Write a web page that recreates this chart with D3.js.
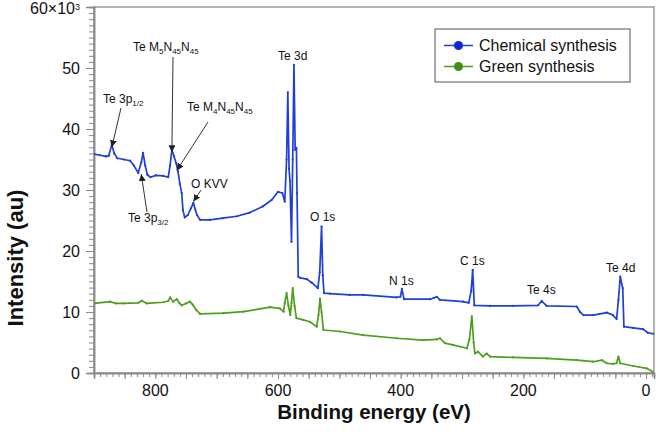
<!DOCTYPE html>
<html>
<head>
<meta charset="utf-8">
<script src="https://cdn.jsdelivr.net/npm/d3@7"></script>
<style>
  html, body { margin: 0; padding: 0; background: #fff; }
  svg { display: block; font-family: "Liberation Sans", Arial, sans-serif; }
</style>
</head>
<body>
<svg id="chart" width="656" height="434"></svg>
<script>
// Binding energy (eV) and intensity (counts) for each series
const chemEnergy = [900,890,880.5,876,871,867,862,851,841,835,828,823,820,816.5,813,808,799,787,779,776,773,769.5,766,763,760,757,755,752,747,742,738,735,732,727,711,690,667,646,625,610,600,593,589,586,584,582,580.5,578,576,574,572,570,569,567,564,553,545,535,532,529,527,525,515,483,461,406.5,400.5,398,394.6,352,346,341,336,298,289,285,282.6,280,254,217,176,170,162,113,107.6,102,86,64,54,48,45,42,38,36,21,5,-3,-13];
const chemIntensity = [35900,35700,35500,35600,37400,36000,35200,35000,34800,34000,32800,34500,36100,34000,32500,32100,32400,32300,32100,34000,36600,35500,34400,33000,31000,29500,26700,25500,25900,27000,27900,26800,25900,25100,25100,25400,25700,26300,27300,28400,29700,29500,28100,35000,46000,33500,31500,21500,35000,50500,36600,36900,29500,15800,15600,15400,14800,13900,16500,24000,16000,13100,13000,12800,12800,12400,12500,13800,12100,12100,12300,12500,12000,11700,11500,13500,16900,11100,11000,11000,11100,11800,11000,10900,10000,9500,9500,9900,9500,8850,12000,15800,13900,7600,7400,7200,6600,6400];

const greenEnergy = [900,874,864,852,828,822,814,787,779,776,771,765,761,757,750,743.5,739,733,727,689,656.6,613,597,591,589,586,583,580,578,576,573,570,559,548,537,534,531.5,529,526,499,461,406.5,363.6,340.8,336,328,315,292,288,284,281,279,274,266,260,254,217,162,113,86,72,64,54,48,45,42,21,-1,-11];
const greenIntensity = [11400,11700,11400,11400,11500,11850,11400,11600,11800,12400,11700,12100,11500,11100,11400,11700,11200,10300,9700,9800,10050,10800,10600,10050,11500,13100,11000,9500,11500,13900,11000,9000,8700,8400,7600,9500,12200,10000,7050,6800,6200,5700,5400,5500,5700,4900,4600,4050,5500,9300,5000,3200,3500,2700,3200,2700,2550,2400,2100,1850,2100,1600,1500,1600,2700,1600,1150,770,200];

const seriesNames = ["Chemical synthesis", "Green synthesis"];
const seriesColors = ["#1f3fd6", "#4f9d1f"];
const xTickLabels = [800, 600, 400, 200, 0];
const yTickLabels = [0, 10, 20, 30, 40, 50];

// Peak annotations: label parts (text, "sub" for subscript)
const annotations = [
  {parts:[["Te 3p",""],["1/2","sub"]], lx:103, ly:103, from:[121,108], toE:871, toI:37000},
  {parts:[["Te M",""],["5","sub"],["N",""],["45","sub"],["N",""],["45","sub"]], lx:133, ly:51, from:[173,57], toE:773, toI:36200},
  {parts:[["Te M",""],["4","sub"],["N",""],["45","sub"],["N",""],["45","sub"]], lx:187, ly:111, from:[208,122], toE:765, toI:33200},
  {parts:[["O KVV",""]], lx:191, ly:188, from:[201,190], toE:738, toI:28100},
  {parts:[["Te 3p",""],["3/2","sub"]], lx:128, ly:222, from:[147,212], toE:823, toI:32600}
];
const plainLabels = [
  {t:"Te 3d", x:278, y:60},
  {t:"O 1s", x:310, y:221},
  {t:"N 1s", x:389, y:285},
  {t:"C 1s", x:460, y:265},
  {t:"Te 4s", x:527, y:294},
  {t:"Te 4d", x:606, y:272}
];

const svg = d3.select("#chart");
const L = 94, R = 654, T = 7, B = 373;
const x = d3.scaleLinear().domain([900, -13]).range([L, R]);
const y = d3.scaleLinear().domain([0, 60000]).range([B, T]);

// frame
svg.append("rect").attr("x", L).attr("y", T).attr("width", R - L).attr("height", B - T)
  .attr("fill", "none").attr("stroke", "#9a9a9a").attr("stroke-width", 1.5);

// y axis ticks
const yAxisMinor = d3.axisLeft(y).tickValues(d3.range(0, 60001, 1000)).tickSize(5).tickFormat("");
const yAxisMajor = d3.axisLeft(y).tickValues(d3.range(0, 60001, 10000)).tickSize(8).tickFormat("");
[yAxisMinor, yAxisMajor].forEach(ax => {
  const g = svg.append("g").attr("transform", `translate(${L},0)`).call(ax);
  g.select(".domain").attr("stroke", "#888").attr("stroke-width", 1.5);
  g.selectAll(".tick line").attr("stroke", "#888");
});
const xAxisMinor = d3.axisBottom(x).tickValues(d3.range(-10, 901, 10)).tickSize(4).tickFormat("");
const xAxisMajor = d3.axisBottom(x).tickValues(d3.range(0, 901, 50)).tickSize(6).tickFormat("");
[xAxisMinor, xAxisMajor].forEach(ax => {
  const g = svg.append("g").attr("transform", `translate(0,${B})`).call(ax);
  g.select(".domain").attr("stroke", "#888").attr("stroke-width", 1.5);
  g.selectAll(".tick line").attr("stroke", "#888");
});

// tick labels
svg.append("g").selectAll("text").data(yTickLabels).join("text")
  .attr("x", 80).attr("y", d => y(d * 1000)).attr("dy", "0.36em")
  .attr("text-anchor", "end").attr("font-size", 16).attr("fill", "#111").text(d => d);
const topLbl = svg.append("text").attr("x", 80).attr("y", y(60000)).attr("dy", "0.42em")
  .attr("text-anchor", "end").attr("font-size", 16).attr("fill", "#111");
topLbl.append("tspan").text("60×10");
topLbl.append("tspan").attr("font-size", 9).attr("dy", -4).text("3");

svg.append("g").selectAll("text").data(xTickLabels).join("text")
  .attr("x", d => x(d)).attr("y", 396)
  .attr("text-anchor", "middle").attr("font-size", 16).attr("fill", "#111").text(d => d);

// axis titles
svg.append("text").attr("x", (L + R) / 2).attr("y", 419).attr("text-anchor", "middle")
  .attr("font-size", 20.5).attr("font-weight", "bold").attr("fill", "#111").text("Binding energy (eV)");
svg.append("text").attr("transform", "translate(23,258) rotate(-90)").attr("text-anchor", "middle")
  .attr("font-size", 22).attr("font-weight", "bold").attr("fill", "#111").text("Intensity (au)");

// lines
const series = [
  {e: chemEnergy, v: chemIntensity},
  {e: greenEnergy, v: greenIntensity}
];
const line = d3.line().x(d => x(d[0])).y(d => y(d[1]));
svg.append("clipPath").attr("id", "clip").append("rect")
  .attr("x", L).attr("y", T).attr("width", R - L).attr("height", B - T);
series.slice().reverse().forEach((s, ri) => {
  const i = series.length - 1 - ri;
  const pts = s.e.map((e, k) => [e, s.v[k]]);
  svg.append("path").attr("d", line(pts)).attr("clip-path", "url(#clip)")
    .attr("fill", "none").attr("stroke", seriesColors[i]).attr("stroke-width", 1.7)
    .attr("stroke-linejoin", "round");
  svg.append("g").attr("clip-path", "url(#clip)").selectAll("circle").data(pts).join("circle")
    .attr("cx", d => x(d[0])).attr("cy", d => y(d[1])).attr("r", 1.1).attr("fill", seriesColors[i]);
});

// arrow marker
svg.append("defs").append("marker").attr("id", "arr").attr("viewBox", "0 0 10 10")
  .attr("refX", 10).attr("refY", 5).attr("markerWidth", 7).attr("markerHeight", 7)
  .attr("orient", "auto-start-reverse").attr("markerUnits", "userSpaceOnUse")
  .append("path").attr("d", "M0,0 L10,5 L0,10 z").attr("fill", "#222");

annotations.forEach(a => {
  const t = svg.append("text").attr("x", a.lx).attr("y", a.ly).attr("font-size", 12).attr("fill", "#111");
  let prevSub = false;
  a.parts.forEach(p => {
    const ts = t.append("tspan").text(p[0]);
    if (p[1] === "sub") {
      ts.attr("font-size", 8).attr("dy", prevSub ? 0 : 3);
      prevSub = true;
    } else {
      ts.attr("dy", prevSub ? -3 : 0);
      prevSub = false;
    }
  });
  svg.append("line").attr("x1", a.from[0]).attr("y1", a.from[1])
    .attr("x2", x(a.toE)).attr("y2", y(a.toI))
    .attr("stroke", "#333").attr("stroke-width", 1).attr("marker-end", "url(#arr)");
});
plainLabels.forEach(l => {
  svg.append("text").attr("x", l.x).attr("y", l.y).attr("font-size", 12).attr("fill", "#111").text(l.t);
});

// legend
const lg = svg.append("g");
lg.append("rect").attr("x", 435).attr("y", 29).attr("width", 195).attr("height", 53)
  .attr("fill", "#fff").attr("stroke", "#555").attr("stroke-width", 1);
seriesNames.forEach((n, i) => {
  const yy = 45.5 + i * 21;
  lg.append("line").attr("x1", 444).attr("x2", 473).attr("y1", yy).attr("y2", yy)
    .attr("stroke", seriesColors[i]).attr("stroke-width", 1.5);
  lg.append("circle").attr("cx", 458.5).attr("cy", yy).attr("r", 4.5).attr("fill", i === 0 ? "#0a2ad0" : "#3f8f15");
  lg.append("text").attr("x", 479).attr("y", yy).attr("dy", "0.36em").attr("font-size", 16)
    .attr("fill", "#111").text(n);
});
</script>
</body>
</html>
